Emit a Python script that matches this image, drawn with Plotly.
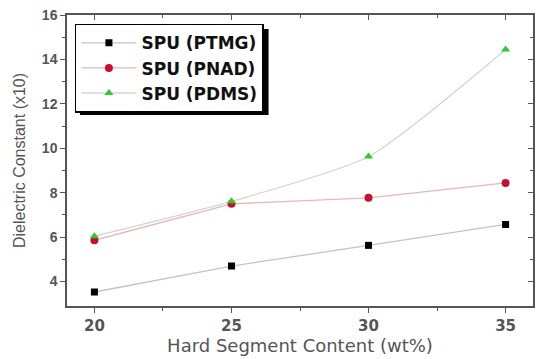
import plotly.graph_objects as go

x_vals = [20, 25, 30, 35]
ptmg = [3.53, 4.70, 5.63, 6.57]
pnad = [5.86, 7.50, 7.77, 8.44]
pdms = [6.04, 7.61, 9.63, 14.45]

fig = go.Figure()
fig.add_trace(go.Scatter(x=x_vals, y=ptmg, name="SPU (PTMG)", mode="lines+markers",
                         line=dict(color="#c4c4c4", width=1.3),
                         marker=dict(symbol="square", size=7, color="#000000")))
fig.add_trace(go.Scatter(x=x_vals, y=pnad, name="SPU (PNAD)", mode="lines+markers",
                         line=dict(color="#e6b8b8", width=1.3),
                         marker=dict(symbol="circle", size=8, color="#c8102e")))
fig.add_trace(go.Scatter(x=x_vals, y=pdms, name="SPU (PDMS)", mode="lines+markers",
                         line=dict(color="#d0d8cc", width=1.3, shape="spline", smoothing=0.6),
                         marker=dict(symbol="triangle-up", size=8, color="#30c830")))

ytick_font = dict(family="Liberation Sans, Arial", size=14, color="#555555", weight="bold")
xtick_font = dict(family="DejaVu Sans", size=15, color="#555555", weight="bold")
xtitle_font = dict(family="DejaVu Sans", size=18, color="#555555")
ytitle_font = dict(family="Liberation Sans, Arial", size=16, color="#555555")
ax_col = "#555555"
fig.update_layout(
    width=537, height=359,
    margin=dict(l=67, r=2, t=15, b=53),
    paper_bgcolor="white", plot_bgcolor="white",
    showlegend=True,
    legend=dict(x=0.017, y=0.97, xanchor="left", yanchor="top",
                bgcolor="white", bordercolor="black", borderwidth=1.5,
                font=dict(family="DejaVu Sans", size=17, color="#111111", weight="bold"),
                itemwidth=55, tracegroupgap=0),
    xaxis=dict(range=[19, 36], tickvals=[20, 25, 30, 35], ticks="outside", ticklen=5,
               tickcolor=ax_col, linecolor=ax_col, linewidth=1.5, showgrid=False, zeroline=False,
               tickfont=xtick_font, mirror=True,
               minor=dict(tickvals=[22.5, 27.5, 32.5], ticks="outside", ticklen=3, tickcolor=ax_col),
               title=dict(text="Hard Segment Content (wt%)", font=xtitle_font, standoff=6)),
    yaxis=dict(range=[2.9, 16], tickvals=[4, 6, 8, 10, 12, 14, 16], ticks="outside", ticklen=5,
               tickcolor=ax_col, linecolor=ax_col, linewidth=1.5, showgrid=False, zeroline=False,
               tickfont=ytick_font, mirror=True,
               minor=dict(tickvals=[5, 7, 9, 11, 13, 15], ticks="outside", ticklen=3, tickcolor=ax_col),
               title=dict(text="Dielectric Constant (x10)", font=ytitle_font, standoff=12)),
    xaxis2=dict(range=[19, 36], overlaying="x", side="top", anchor="y", tickvals=[20, 25, 30, 35],
                ticks="inside", ticklen=5, tickcolor=ax_col, showticklabels=False, showgrid=False,
                zeroline=False, showline=False,
                minor=dict(tickvals=[22.5, 27.5, 32.5], ticks="inside", ticklen=3, tickcolor=ax_col)),
    yaxis2=dict(range=[2.9, 16], overlaying="y", side="right", anchor="x", tickvals=[4, 6, 8, 10, 12, 14, 16],
                ticks="inside", ticklen=5, tickcolor=ax_col, showticklabels=False, showgrid=False,
                zeroline=False, showline=False,
                minor=dict(tickvals=[5, 7, 9, 11, 13, 15], ticks="inside", ticklen=3, tickcolor=ax_col)),
)

# invisible trace to activate secondary (mirror tick) axes
fig.add_trace(go.Scatter(x=[x_vals[0]], y=[ptmg[0]], xaxis="x2", yaxis="y2", mode="markers",
                         marker=dict(opacity=0), showlegend=False, hoverinfo="skip"))

# legend shadow (offset ~5px right/down of the legend box)
fig.add_shape(type="rect", xref="paper", yref="paper", x0=0.0278, x1=0.4325, y0=0.656, y1=0.952,
              fillcolor="black", line=dict(width=0), layer="below")

fig.write_html("out.html")
